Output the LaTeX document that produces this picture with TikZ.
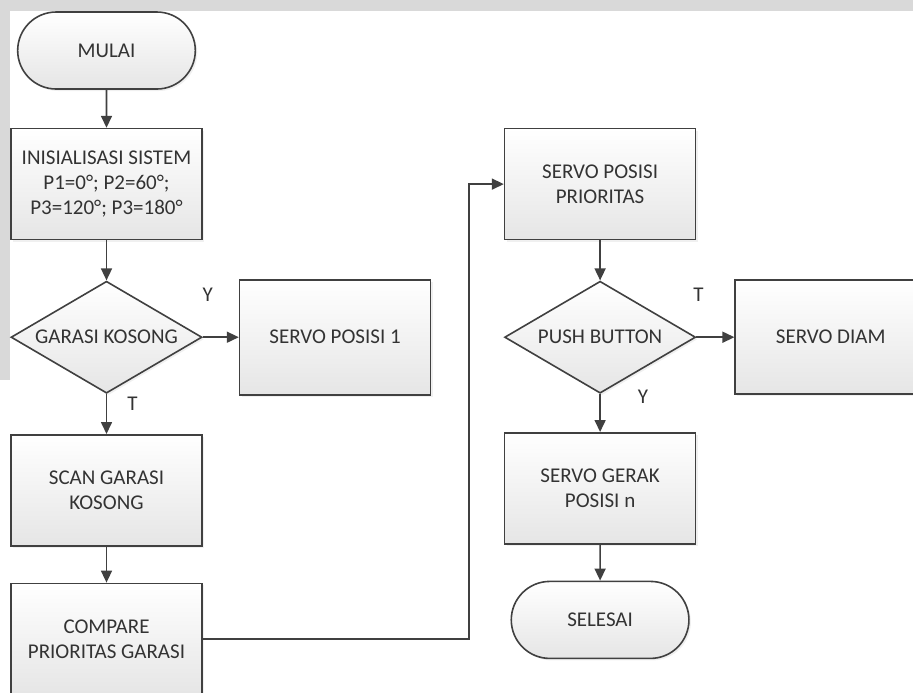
\documentclass[tikz,border=0pt]{standalone}
\usepackage{fontspec}
\setmainfont{Carlito}
\usepackage{tikz}
\usetikzlibrary{shapes.geometric, shapes.misc, arrows.meta, positioning, calc, shadows}

\begin{document}
\begin{tikzpicture}[
  node distance = 19pt and 18pt,
  font          = \fontsize{10.5}{12.5}\selectfont,
  base/.style   = {draw=black!75, line width=0.8pt, top color=white, bottom color=black!10,
                   text=black!80, align=center,
                   drop shadow={opacity=0.12, shadow xshift=1pt, shadow yshift=-1pt}},
  terminal/.style = {base, rounded rectangle, minimum width=95.5pt, minimum height=38.5pt},
  process/.style  = {base, rectangle, minimum width=95.5pt, minimum height=55.5pt},
  decision/.style = {base, diamond, aspect=1.7, inner sep=0pt,
                     minimum width=95.5pt, minimum height=56pt},
  arr/.style    = {-{Triangle[length=6pt, width=5.5pt]}, line width=0.8pt, black!75},
  lbl/.style    = {text=black!80, inner sep=0pt}
]
\useasboundingbox (0,0) rectangle (456.5pt,-346pt);

% ── Scan border ──────────────────────────────────────────────────────────────
\fill[black!15] (0,0) rectangle (456.5pt,-5.5pt);
\fill[black!15] (0,0) rectangle (5pt,-190pt);

% ── Left column ──────────────────────────────────────────────────────────────
\node[terminal] (mulai) at (53.25pt,-25.25pt) {MULAI};
\node[process, below=19pt of mulai] (init)
     {INISIALISASI SISTEM\\P1=0°; P2=60°;\\P3=120°; P3=180°};
\node[decision, below=20pt of init] (garasi) {GARASI KOSONG};
\node[process, right=18pt of garasi, minimum height=57.5pt] (servo1) {SERVO POSISI 1};
\node[process, below=20pt of garasi] (scan) {SCAN GARASI\\KOSONG};
\node[process, below=18pt of scan] (compare) {COMPARE\\PRIORITAS GARASI};

% ── Right column ─────────────────────────────────────────────────────────────
\node[process, right=150.5pt of init] (prior) {SERVO POSISI\\PRIORITAS};
\node[decision, below=20pt of prior] (push) {PUSH BUTTON};
\node[process, right=19pt of push, minimum height=57pt] (diam) {SERVO DIAM};
\node[process, below=19pt of push] (gerak) {SERVO GERAK\\POSISI n};
\node[terminal, below=18pt of gerak] (selesai) {SELESAI};

% ── Arrows ───────────────────────────────────────────────────────────────────
\draw[arr] (mulai) -- (init);
\draw[arr] (init) -- (garasi);
\draw[arr] (garasi.east) -- node[lbl, pos=0, xshift=2.5pt, yshift=21pt]{Y} (servo1.west);
\draw[arr] (garasi.south) -- node[lbl, pos=0, xshift=13pt, yshift=-5pt]{T} (scan.north);
\draw[arr] (scan) -- (compare);
\draw[arr] (compare.east) -- ++(133pt,0) |- (prior.west);
\draw[arr] (prior) -- (push);
\draw[arr] (push.east) -- node[lbl, pos=0, xshift=1pt, yshift=21pt]{T} (diam.west);
\draw[arr] (push.south) -- node[lbl, pos=0, xshift=21.5pt, yshift=-1.5pt]{Y} (gerak.north);
\draw[arr] (gerak) -- (selesai);
\end{tikzpicture}
\end{document}
